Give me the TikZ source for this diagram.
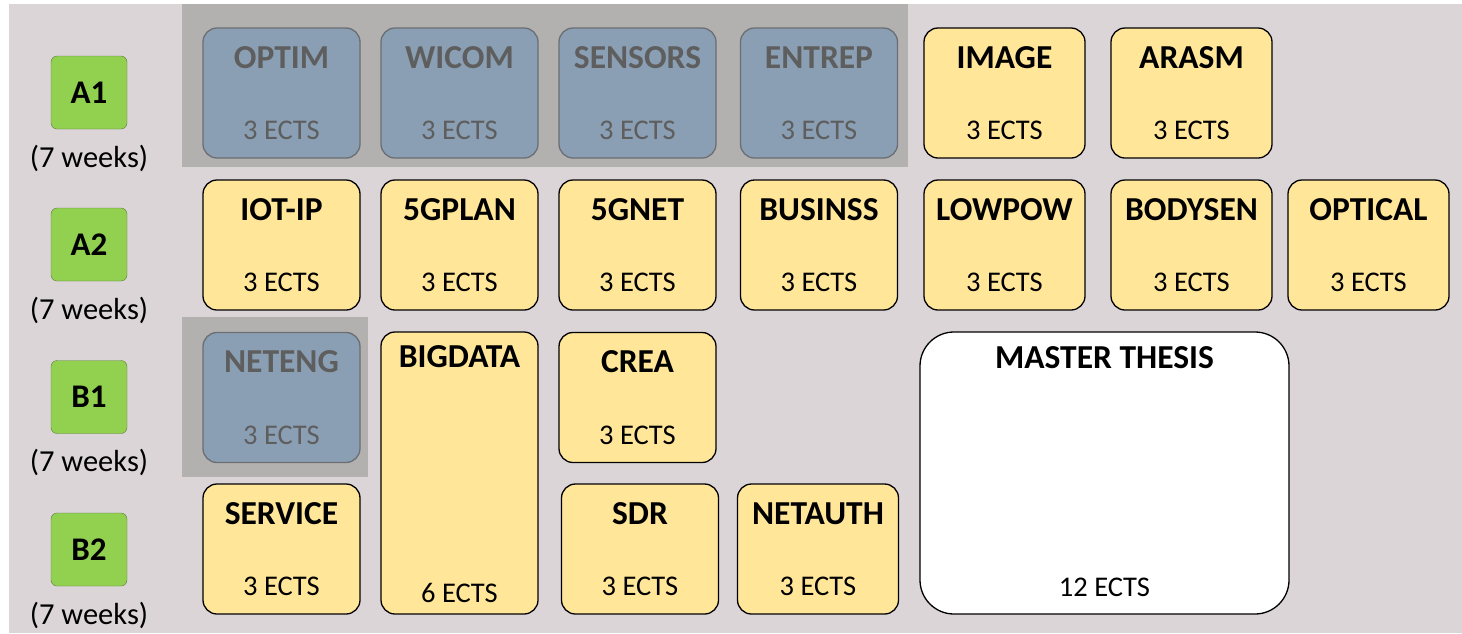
\documentclass[tikz,border=0pt]{standalone}
\usepackage{fontspec}
\setmainfont{Carlito}
\usetikzlibrary{positioning}
\definecolor{slide}{HTML}{DCD5D8}
\definecolor{shadegray}{HTML}{B3B0B0}
\definecolor{yellowfill}{HTML}{FFE699}
\definecolor{bluefill}{HTML}{8A9FB3}
\definecolor{blueline}{HTML}{6B6E72}
\definecolor{bluetext}{HTML}{5E5E5E}
\definecolor{greenfill}{HTML}{92D050}
\definecolor{greenline}{HTML}{5C7A3E}
\tikzstyle{course} = [draw, rectangle, fill=yellowfill, line width=1.3pt,
    minimum width=157pt, minimum height=130pt, rounded corners=14pt, inner sep=0pt]
\tikzstyle{dropped} = [course, fill=bluefill, draw=blueline]
\tikzstyle{wide} = [course, minimum width=161pt]
\tikzstyle{period} = [draw=greenline, fill=greenfill, rectangle, rounded corners=6pt,
    minimum width=76pt, minimum height=73pt, font=\fontsize{33}{40}\selectfont\bfseries]
\tikzstyle{weeks} = [anchor=base, inner sep=0pt, font=\fontsize{30.5}{36}\selectfont]
\tikzstyle{ctitle} = [anchor=base, inner sep=0pt, font=\fontsize{33.5}{40}\selectfont\bfseries]
\tikzstyle{cects} = [anchor=base, inner sep=0pt, font=\fontsize{28.5}{34}\selectfont]
\tikzset{course text/.style={text=black}, dropped text/.style={text=bluetext},
    wide text/.style={text=black}}
% one course box with its title and credits
\newcommand{\course}[5][course]{%
    \node [#1] (#2) at #3 {};
    \node [ctitle, #1 text] (#2-title) at ([yshift=-41pt]#2.north) {#4};
    \node [cects, #1 text] (#2-ects) at ([yshift=19pt]#2.south) {#5};
}
\begin{document}
\begin{tikzpicture}[x=1pt, y=-1pt]
    \useasboundingbox (0,0) rectangle (1462,633);
    \fill [slide] (9,4) rectangle (1462,633);
    % shaded areas behind the dropped courses
    \fill [shadegray] (182,4) rectangle (908,167);
    \fill [shadegray] (182,317) rectangle (368,477);

    % We start by placing the periods
    \foreach \per/\y in {A1/92.5, A2/244.5, B1/397, B2/549.5} {
        \node [period] (\per) at (89,\y) {\per};
        \node [weeks] (\per-weeks) at ([yshift=-74.5pt]\per.center) {(7 weeks)};
    }

    % period A1
    \course[dropped]{optim}{(281.5,93)}{OPTIM}{3 ECTS}
    \course[dropped]{wicom}{(459.5,93)}{WICOM}{3 ECTS}
    \course[dropped]{sensors}{(637.5,93)}{SENSORS}{3 ECTS}
    \course[dropped]{entrep}{(819,93)}{ENTREP}{3 ECTS}
    \course[wide]{image}{(1004.5,93)}{IMAGE}{3 ECTS}
    \course[wide]{arasm}{(1191.5,93)}{ARASM}{3 ECTS}
    % period A2
    \course{iotip}{(281.5,245)}{IOT-IP}{3 ECTS}
    \course{gplan}{(459.5,245)}{5GPLAN}{3 ECTS}
    \course{gnet}{(637.5,245)}{5GNET}{3 ECTS}
    \course{businss}{(819,245)}{BUSINSS}{3 ECTS}
    \course[wide]{lowpow}{(1004.5,245)}{LOWPOW}{3 ECTS}
    \course[wide]{bodysen}{(1191.5,245)}{BODYSEN}{3 ECTS}
    \course[wide]{optical}{(1368.5,245)}{OPTICAL}{3 ECTS}
    % period B1
    \course[dropped]{neteng}{(281.5,397.5)}{NETENG}{3 ECTS}
    \course{crea}{(637.5,397.5)}{CREA}{3 ECTS}
    % period B2
    \course{service}{(281.5,549)}{SERVICE}{3 ECTS}
    \course{sdr}{(640,549)}{SDR}{3 ECTS}
    \course[wide]{netauth}{(818,549)}{NETAUTH}{3 ECTS}

    % courses over both B periods
    \node [course, minimum height=282pt] (bigdata) at (459.5,473) {};
    \node [ctitle] (bigdata-title) at ([yshift=-36pt]bigdata.north) {BIGDATA};
    \node [cects] (bigdata-ects) at ([yshift=12pt]bigdata.south) {6 ECTS};
    \node [course, fill=white, minimum width=369pt, minimum height=282pt,
        rounded corners=34pt] (thesis) at (1104.5,473) {};
    \node [ctitle] (thesis-title) at ([yshift=-37pt]thesis.north) {MASTER THESIS};
    \node [cects] (thesis-ects) at ([yshift=18pt]thesis.south) {12 ECTS};
\end{tikzpicture}
\end{document}
